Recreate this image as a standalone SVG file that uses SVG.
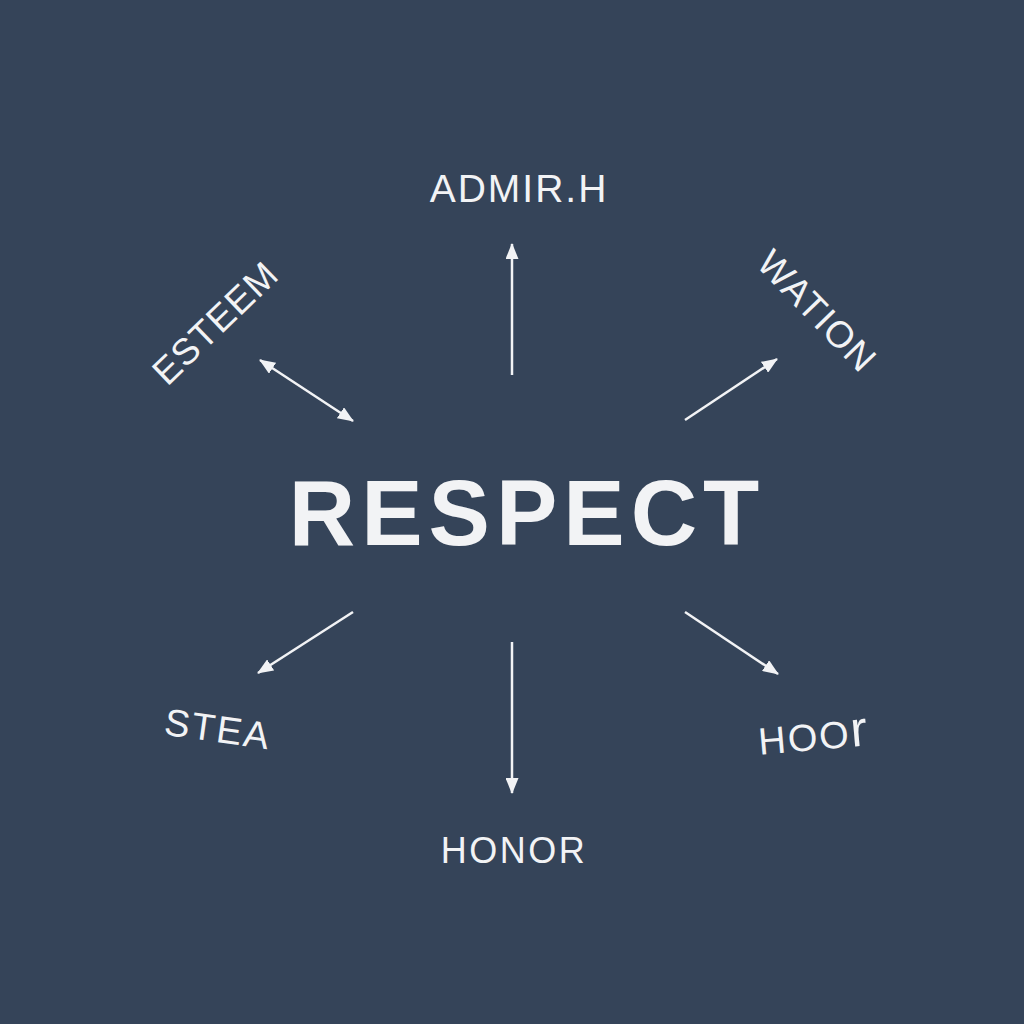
<svg xmlns="http://www.w3.org/2000/svg" width="1024" height="1024" viewBox="0 0 1024 1024">
<style>
.lbl{font-family:"Liberation Sans","Open Sans",Arial,sans-serif;fill:#f2f3f5;text-anchor:middle}
.conn{stroke:#f2f3f5;stroke-width:2.5;fill:none}
</style>
<defs>
<marker id="ah" viewBox="0 0 16 13" refX="15" refY="6.5" markerWidth="16" markerHeight="13" markerUnits="userSpaceOnUse" orient="auto-start-reverse">
<path d="M0,0 L16,6.5 L0,13 Z" fill="#f2f3f5"/>
</marker>
</defs>
<rect width="1024" height="1024" fill="#354459"/>
<g id="connectors">
<line class="conn" x1="512" y1="375" x2="512" y2="244" marker-end="url(#ah)"/>
<line class="conn" x1="512" y1="642" x2="512" y2="793" marker-end="url(#ah)"/>
<line class="conn" x1="260" y1="360" x2="353" y2="421" marker-start="url(#ah)" marker-end="url(#ah)"/>
<line class="conn" x1="685" y1="420" x2="777" y2="359" marker-end="url(#ah)"/>
<line class="conn" x1="353" y1="612" x2="258" y2="673" marker-end="url(#ah)"/>
<line class="conn" x1="685" y1="612" x2="778" y2="674" marker-end="url(#ah)"/>
</g>
<g id="respect"><text class="lbl" x="527" y="545" font-size="92" font-weight="600" letter-spacing="6">RESPECT</text></g>
<g id="admir"><text class="lbl" x="519" y="202" font-size="39" letter-spacing="2">ADMIR.H</text></g>
<g id="honor"><text class="lbl" x="514" y="863" font-size="36" letter-spacing="2.5">HONOR</text></g>
<g id="esteem"><text class="lbl" x="0" y="0" font-size="37" letter-spacing="1" transform="translate(224,332) rotate(-44)">ESTEEM</text></g>
<g id="wation"><text class="lbl" x="0" y="0" font-size="37" letter-spacing="1.5" transform="translate(808,320) rotate(46)">WATION</text></g>
<g id="stea"><text class="lbl" x="0" y="0" font-size="38" letter-spacing="2" transform="translate(216,742) rotate(8)">STEA</text></g>
<g id="hoor"><text class="lbl" x="0" y="0" font-size="38" letter-spacing="2" transform="translate(815,750) rotate(-5)">HOO<tspan font-size="50">r</tspan></text></g>
</svg>
